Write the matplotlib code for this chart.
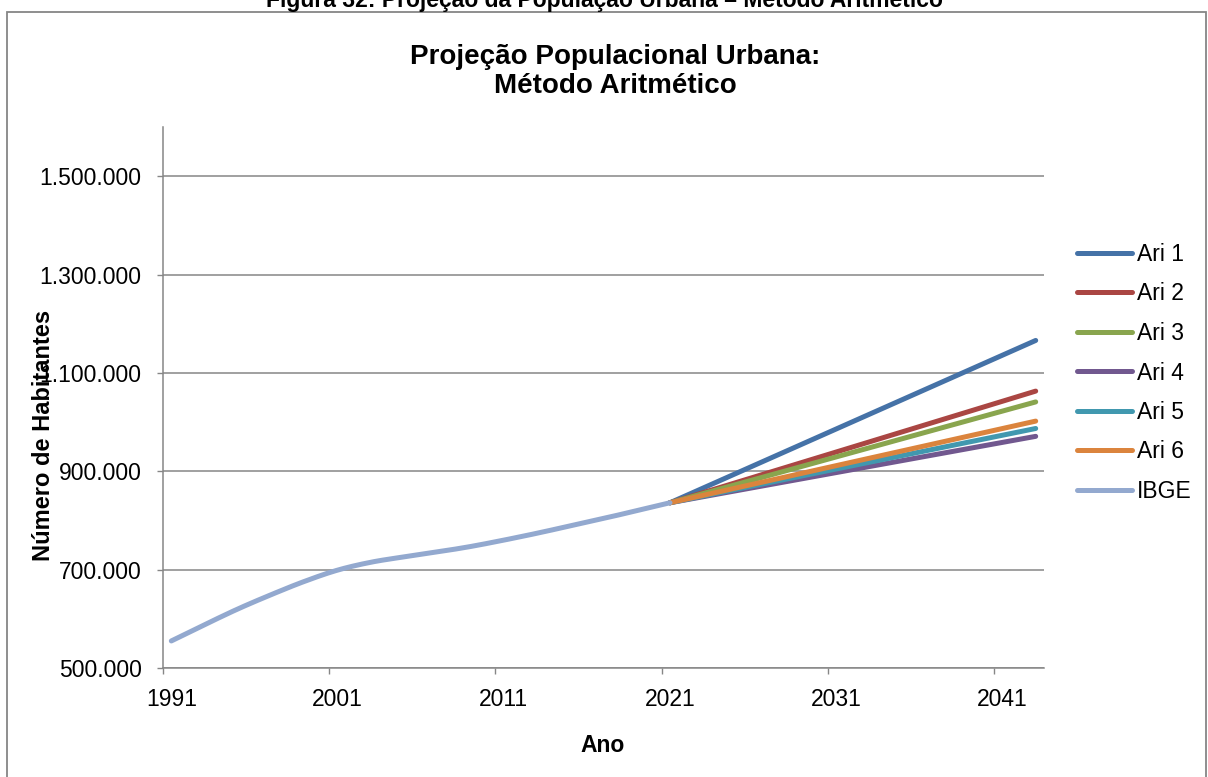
import matplotlib
matplotlib.use("Agg")
import numpy as np
import matplotlib.pyplot as plt
from matplotlib.patches import Rectangle
from matplotlib.ticker import FuncFormatter

plt.rcParams['font.family'] = ['Liberation Sans', 'DejaVu Sans']

# IBGE series (thousands of inhabitants)
ibge_years = [1991, 1993, 1995, 1997, 1999, 2001, 2003, 2005, 2007, 2009,
              2011, 2013, 2015, 2017, 2019, 2021]
ibge_pop = [555, 588, 620, 649, 676, 699, 715, 726, 736, 747,
            760, 774, 789, 804, 820, 836]

# arithmetic projections, 2021 -> 2043
ari_years = [2021, 2043]
ari_names = ['Ari 1', 'Ari 2', 'Ari 3', 'Ari 4', 'Ari 5', 'Ari 6']
ari_pop = {
    'Ari 1': [836, 1166],
    'Ari 2': [836, 1063],
    'Ari 3': [836, 1041],
    'Ari 4': [836, 971],
    'Ari 5': [836, 987],
    'Ari 6': [836, 1002],
}
ari_colors = ['#4572A7', '#AA4643', '#89A54E', '#71588F', '#4198AF', '#DB843D']
ibge_color = '#93A9CF'

first_year, last_year = 1991, 2043
label_years = [1991, 2001, 2011, 2021, 2031, 2041]
y_ticks = [500000, 700000, 900000, 1100000, 1300000, 1500000]


def smooth(xs, ys, n=20):
    # Catmull-Rom curve through the points, like Excel's "smoothed line"
    x = np.asarray(xs, float)
    y = np.asarray(ys, float)
    px = np.concatenate([[x[0]], x, [x[-1]]])
    py = np.concatenate([[y[0]], y, [y[-1]]])
    outx, outy = [], []
    t = np.linspace(0, 1, n, endpoint=False)
    for i in range(1, len(px) - 2):
        for p, out in ((px, outx), (py, outy)):
            p0, p1, p2, p3 = p[i - 1], p[i], p[i + 1], p[i + 2]
            out.extend(0.5 * (2 * p1 + (-p0 + p2) * t
                              + (2 * p0 - 5 * p1 + 4 * p2 - p3) * t ** 2
                              + (-p0 + 3 * p1 - 3 * p2 + p3) * t ** 3))
    outx.append(x[-1])
    outy.append(y[-1])
    return outx, outy


W, H = 1208, 777
fig = plt.figure(figsize=(W / 100, H / 100), dpi=100)
ax = fig.add_axes([163 / W, 1 - 668 / H, 881 / W, 541 / H])

lw = 3.6
for name, c in zip(ari_names, ari_colors):
    ax.plot(ari_years, [v * 1000 for v in ari_pop[name]], color=c, lw=lw,
            solid_capstyle='round', solid_joinstyle='round', label=name)
sx, sy = smooth(ibge_years, ibge_pop)
ax.plot(sx, [v * 1000 for v in sy], color=ibge_color, lw=lw,
        solid_capstyle='round', solid_joinstyle='round', label='IBGE')

grey = '#868686'
ax.set_xlim(first_year - 0.5, last_year + 0.5)
ax.set_ylim(500000, 1600000)
ax.set_yticks(y_ticks)
ax.yaxis.set_major_formatter(FuncFormatter(lambda v, p: '{:,.0f}'.format(v).replace(',', '.')))
ax.set_xticks(label_years)
ax.set_xticks([y - 0.5 for y in label_years], minor=True)
ax.tick_params(axis='x', which='major', length=0, labelsize=16.5, pad=14.5)
ax.tick_params(axis='x', which='minor', length=4, width=1, color=grey, direction='out')
ax.tick_params(axis='y', length=4.5, width=1, color=grey, labelsize=16.5, pad=11)
ax.grid(axis='y', color=grey, lw=1.1)
ax.set_axisbelow(True)
for s in ['top', 'right']:
    ax.spines[s].set_visible(False)
for s in ['left', 'bottom']:
    ax.spines[s].set_color(grey)
    ax.spines[s].set_linewidth(1.1)

fig.text(44 / W, 1 - 435 / H, 'Número de Habitantes', rotation=90, ha='center',
         va='center', fontsize=17, fontweight='bold')
fig.text(603 / W, 1 - 745 / H, 'Ano', ha='center', va='center', fontsize=16.5,
         fontweight='bold')
fig.text(615 / W, 1 - 64 / H, 'Projeção Populacional Urbana:', ha='center',
         va='baseline', fontsize=20, fontweight='bold')
fig.text(615 / W, 1 - 93 / H, 'Método Aritmético', ha='center',
         va='baseline', fontsize=20, fontweight='bold')
fig.text(604 / W, 1 - 7 / H, 'Figura 32: Projeção da População Urbana – Método Aritmético',
         ha='center', va='baseline', fontsize=16.5, fontweight='bold')

fig.patches.append(Rectangle((7 / W, -0.05), 1199 / W, 1.05 - 11.7 / H,
                             transform=fig.transFigure, fill=False,
                             edgecolor=grey, lw=1.3))

fig.legend(loc='center left', bbox_to_anchor=(1077 / W, 1 - 373 / H), frameon=False,
           fontsize=16.5, handlelength=2.4, handletextpad=0.2, labelspacing=0.72,
           borderpad=0, borderaxespad=0)

fig.savefig('out.png', dpi=100)
